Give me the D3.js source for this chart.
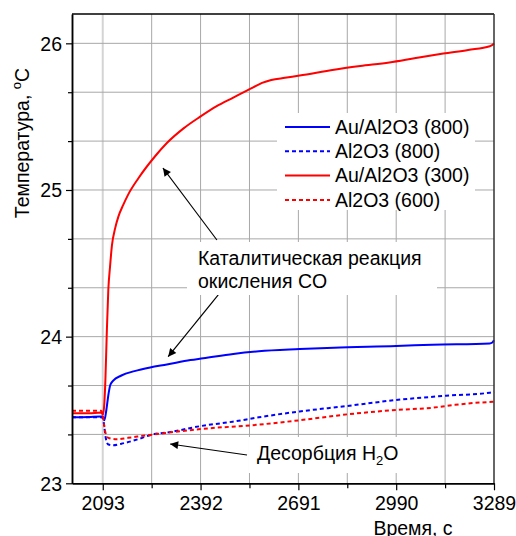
<!DOCTYPE html>
<html>
<head>
<meta charset="utf-8">
<style>
  body { margin: 0; background: #fff; }
  svg text { font-family: "Liberation Sans", Arial, sans-serif; fill: #000; }
</style>
</head>
<body>
<script src="https://cdn.jsdelivr.net/npm/d3@7/dist/d3.min.js"></script>
<script>
// series: [time, temperature]
var auAl2o3_800 = [[1999,23.45],[2050,23.452],[2088,23.455],[2093,23.455],[2098,23.43],[2104,23.50],[2110,23.60],[2116,23.67],[2125,23.70],[2150,23.735],[2190,23.765],[2238,23.79],[2289,23.81],[2361,23.84],[2400,23.852],[2492,23.882],[2570,23.90],[2695,23.915],[2800,23.925],[2990,23.936],[3100,23.945],[3276,23.954],[3284,23.96],[3289,23.975]];
var al2o3_800 = [[1999,23.45],[2050,23.45],[2088,23.45],[2094,23.44],[2098,23.38],[2103,23.30],[2110,23.265],[2125,23.26],[2150,23.27],[2200,23.30],[2240,23.33],[2300,23.35],[2392,23.39],[2490,23.42],[2570,23.45],[2695,23.49],[2840,23.527],[2990,23.568],[3142,23.597],[3276,23.618],[3289,23.625]];
var auAl2o3_300 = [[1999,23.478],[2050,23.478],[2088,23.482],[2094,23.468],[2098,23.55],[2101,23.70],[2105,24.0],[2110,24.32],[2115,24.47],[2121,24.62],[2131,24.74],[2141,24.82],[2156,24.90],[2171,24.97],[2202,25.08],[2253,25.23],[2289,25.32],[2340,25.42],[2391,25.50],[2440,25.57],[2492,25.63],[2553,25.70],[2580,25.73],[2608,25.75],[2650,25.765],[2695,25.78],[2800,25.82],[2880,25.845],[2969,25.87],[3050,25.90],[3134,25.93],[3210,25.955],[3276,25.98],[3285,25.99],[3289,26.0]];
var al2o3_600 = [[1999,23.495],[2050,23.495],[2088,23.495],[2093,23.47],[2097,23.40],[2102,23.34],[2110,23.31],[2135,23.30],[2170,23.31],[2238,23.33],[2392,23.37],[2570,23.40],[2695,23.43],[2840,23.47],[2990,23.50],[3100,23.515],[3170,23.535],[3230,23.548],[3289,23.556]];

var seriesNames = ["Au/Al2O3 (800)", "Al2O3 (800)", "Au/Al2O3 (300)", "Al2O3 (600)"];
var seriesData = [auAl2o3_800, al2o3_800, auAl2o3_300, al2o3_600];
var seriesColors = ["#0000ff", "#0000ff", "#ff0000", "#ff0000"];
var seriesDashed = [false, true, false, true];

var xTicks = [2093, 2392, 2691, 2990, 3289];
var xMinor = [2242.5, 2541.5, 2840.5, 3139.5];
var yTicks = [23, 24, 25, 26];
var yMinor = [23+1/3, 23+2/3, 24+1/3, 24+2/3, 25+1/3, 25+2/3];

var W = 516, H = 536;
var pL = 72, pR = 494, pT = 14, pB = 483.3;
var fs = 19.5;

var svg = d3.select("body").append("svg").attr("width", W).attr("height", H);

var x = d3.scaleLinear().domain([1999, 3289]).range([pL, pR]);
var y = d3.scaleLinear().domain([23, 26.2]).range([pB, pT]);

// grid
var grid = svg.append("g");
var gx = xTicks.concat(xMinor).filter(function(d){ return d < 3289; });
grid.selectAll("line.gx").data(gx).enter().append("line")
  .attr("x1", function(d){ return x(d); }).attr("x2", function(d){ return x(d); })
  .attr("y1", pT).attr("y2", pB)
  .attr("stroke", function(d){ return d === 2093 ? "#d4d4d4" : "#a8a8a8"; })
  .attr("stroke-width", function(d){ return d === 2093 ? 2 : 1; });
var gy = yTicks.concat(yMinor).filter(function(d){ return d > 23; });
grid.selectAll("line.gy").data(gy).enter().append("line")
  .attr("x1", pL).attr("x2", pR)
  .attr("y1", function(d){ return y(d); }).attr("y2", function(d){ return y(d); })
  .attr("stroke", "#a8a8a8").attr("stroke-width", 1);

// curves
var line = d3.line().x(function(d){ return x(d[0]); }).y(function(d){ return y(d[1]); }).curve(d3.curveMonotoneX);
svg.append("g").selectAll("path").data(seriesData).enter().append("path")
  .attr("d", function(d){ return line(d); })
  .attr("fill", "none")
  .attr("stroke", function(d, i){ return seriesColors[i]; })
  .attr("stroke-width", 2)
  .attr("stroke-dasharray", function(d, i){ return seriesDashed[i] ? "4,3" : null; });

// frame
svg.append("line").attr("x1", pL).attr("x2", pR).attr("y1", pT).attr("y2", pT).attr("stroke", "#000").attr("stroke-width", 1.5);
svg.append("line").attr("x1", pR).attr("x2", pR).attr("y1", pT).attr("y2", pB).attr("stroke", "#333").attr("stroke-width", 1.5);

// axes
var ax = svg.append("g").attr("transform", "translate(0," + pB + ")")
  .call(d3.axisBottom(x).tickValues(xTicks).tickFormat(d3.format("d")).tickSize(7).tickSizeOuter(0));
svg.append("g").attr("transform", "translate(0," + pB + ")")
  .call(d3.axisBottom(x).tickValues(xMinor).tickFormat("").tickSize(5).tickSizeOuter(0));
var ay = svg.append("g").attr("transform", "translate(" + pL + ",0)")
  .call(d3.axisLeft(y).tickValues(yTicks).tickFormat(d3.format("d")).tickSize(6).tickSizeOuter(0));
svg.append("g").attr("transform", "translate(" + pL + ",0)")
  .call(d3.axisLeft(y).tickValues(yMinor).tickFormat("").tickSize(4).tickSizeOuter(0));
svg.selectAll(".domain").attr("stroke", "#000").attr("stroke-width", 1.5);
svg.selectAll(".tick line").attr("stroke", "#000").attr("stroke-width", 1.2);
ax.selectAll("text").attr("font-size", fs).attr("y", 13).attr("dy", "0.71em").attr("font-family", "Liberation Sans, Arial, sans-serif");
ay.selectAll("text").attr("font-size", fs).attr("dx", "-1").attr("dy", "0.35em").attr("font-family", "Liberation Sans, Arial, sans-serif");

// axis titles
var yt = svg.append("text").attr("transform", "translate(29,143) rotate(-90)")
  .attr("text-anchor", "middle").attr("font-size", fs);
yt.append("tspan").text("Температура, ");
yt.append("tspan").attr("font-size", 13).attr("dy", -8).text("o");
yt.append("tspan").attr("dy", 8).text("C");
svg.append("text").attr("x", 413).attr("y", 535).attr("text-anchor", "middle").attr("font-size", fs).text("Время, с");

// legend
var lg = svg.append("g");
lg.append("rect").attr("x", 277).attr("y", 113).attr("width", 198).attr("height", 97).attr("fill", "#fff");
seriesNames.forEach(function(name, i){
  var cy = 127 + i * 24.3;
  lg.append("line").attr("x1", 285).attr("x2", 330).attr("y1", cy).attr("y2", cy)
    .attr("stroke", seriesColors[i]).attr("stroke-width", 2)
    .attr("stroke-dasharray", seriesDashed[i] ? "4,3" : null);
  lg.append("text").attr("x", 335).attr("y", cy).attr("dy", "0.35em").attr("font-size", fs).text(name);
});

// annotations
var defs = svg.append("defs");
defs.append("marker").attr("id", "arr").attr("viewBox", "0 0 10 10").attr("refX", 10).attr("refY", 5)
  .attr("markerWidth", 11).attr("markerHeight", 8).attr("markerUnits", "userSpaceOnUse").attr("orient", "auto")
  .append("path").attr("d", "M0,0 L10,5 L0,10 z").attr("fill", "#000");

var arrows = [
  [[2442, 24.659], [2277, 25.15]],
  [[2446, 24.284], [2293, 23.863]],
  [[2534, 23.193], [2299, 23.268]]
];
svg.append("g").selectAll("line").data(arrows).enter().append("line")
  .attr("x1", function(d){ return x(d[0][0]); }).attr("y1", function(d){ return y(d[0][1]); })
  .attr("x2", function(d){ return x(d[1][0]); }).attr("y2", function(d){ return y(d[1][1]); })
  .attr("stroke", "#000").attr("stroke-width", 1.2).attr("marker-end", "url(#arr)");

svg.append("rect").attr("x", 187).attr("y", 242).attr("width", 250).attr("height", 53).attr("fill", "#fff");
svg.append("text").attr("x", 198).attr("y", 265).attr("font-size", fs).text("Каталитическая реакция");
svg.append("text").attr("x", 198).attr("y", 288).attr("font-size", fs).text("окисления CO");

svg.append("rect").attr("x", 249).attr("y", 437).attr("width", 160).attr("height", 36).attr("fill", "#fff");
var dt = svg.append("text").attr("x", 257).attr("y", 460).attr("font-size", fs);
dt.append("tspan").text("Десорбция H");
dt.append("tspan").attr("font-size", 13).attr("dy", 5).text("2");
dt.append("tspan").attr("dy", -5).text("O");
</script>
</body>
</html>
